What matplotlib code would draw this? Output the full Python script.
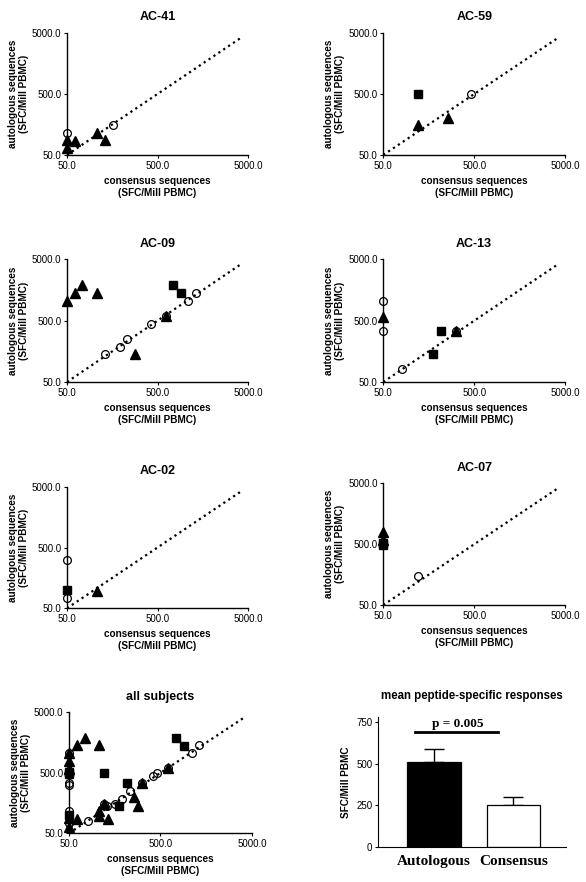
import matplotlib
matplotlib.use("Agg")
import matplotlib.pyplot as plt
import numpy as np

plt.rcParams['font.family'] = ['Liberation Sans', 'DejaVu Sans']

# data per subject: (consensus, autologous) pairs per marker type
ac41_circ_x = [50, 161]
ac41_circ_y = [116, 155]
ac41_tri_x = [50, 61, 50, 107, 132]
ac41_tri_y = [88, 86, 64, 116, 87]
ac41_sq_x = []
ac41_sq_y = []

ac59_circ_x = [464]
ac59_circ_y = [494]
ac59_tri_x = [120, 257]
ac59_tri_y = [153, 199]
ac59_sq_x = [120]
ac59_sq_y = [494]

ac09_circ_x = [131, 192, 233, 419, 613, 1099, 1334]
ac09_circ_y = [143, 188, 251, 447, 595, 1060, 1430]
ac09_tri_x = [50, 61, 74, 107, 284, 613]
ac09_tri_y = [1060, 1430, 1905, 1430, 143, 595]
ac09_sq_x = [738, 904]
ac09_sq_y = [1885, 1413]

ac13_circ_x = [50, 50, 315, 81]
ac13_circ_y = [1060, 335, 335, 80]
ac13_tri_x = [50, 315]
ac13_tri_y = [581, 335]
ac13_sq_x = [215, 177]
ac13_sq_y = [335, 141]

ac02_circ_x = [50, 50]
ac02_circ_y = [312, 73]
ac02_tri_x = [107]
ac02_tri_y = [98]
ac02_sq_x = [50]
ac02_sq_y = [100]

ac07_circ_x = [120]
ac07_circ_y = [152]
ac07_tri_x = [50, 50]
ac07_tri_y = [800, 590]
ac07_sq_x = [50, 50]
ac07_sq_y = [520, 480]

subjects = {
    "AC-41": (ac41_circ_x, ac41_circ_y, ac41_tri_x, ac41_tri_y, ac41_sq_x, ac41_sq_y),
    "AC-59": (ac59_circ_x, ac59_circ_y, ac59_tri_x, ac59_tri_y, ac59_sq_x, ac59_sq_y),
    "AC-09": (ac09_circ_x, ac09_circ_y, ac09_tri_x, ac09_tri_y, ac09_sq_x, ac09_sq_y),
    "AC-13": (ac13_circ_x, ac13_circ_y, ac13_tri_x, ac13_tri_y, ac13_sq_x, ac13_sq_y),
    "AC-02": (ac02_circ_x, ac02_circ_y, ac02_tri_x, ac02_tri_y, ac02_sq_x, ac02_sq_y),
    "AC-07": (ac07_circ_x, ac07_circ_y, ac07_tri_x, ac07_tri_y, ac07_sq_x, ac07_sq_y),
}
# all subjects = union of the above
allsub = tuple(sum((list(v[i]) for v in subjects.values()), []) for i in range(6))
subjects["all subjects"] = allsub

bar_labels = ["Autologous", "Consensus"]
bar_means = [512, 251]
bar_err = [77, 51]
p_text = "p = 0.005"

fig = plt.figure(figsize=(5.86, 8.82), dpi=100)

# axes positions (left, bottom, width, height) in figure fractions
positions = {
    "AC-41": [0.1143, 0.8243, 0.309, 0.1383],
    "AC-59": [0.654, 0.8243, 0.3106, 0.1383],
    "AC-09": [0.1143, 0.5669, 0.309, 0.139],
    "AC-13": [0.654, 0.5669, 0.3106, 0.139],
    "AC-02": [0.1143, 0.3103, 0.309, 0.1379],
    "AC-07": [0.654, 0.314, 0.3106, 0.138],
    "all subjects": [0.1177, 0.0552, 0.312, 0.137],
}

for name, (cx, cy, tx, ty, sx, sy) in subjects.items():
    ax = fig.add_axes(positions[name])
    ax.set_xscale('log')
    ax.set_yscale('log')
    ax.set_xlim(50, 5000)
    ax.set_ylim(50, 5000)
    ax.plot([50, 4200], [50, 4200], ':', color='black', lw=1.6, zorder=1)
    ax.plot(cx, cy, 'o', ms=5.6, mfc='none', mec='black', mew=0.9, clip_on=False, zorder=3)
    ax.plot(tx, ty, '^', ms=6.5, color='black', clip_on=False, zorder=4)
    ax.plot(sx, sy, 's', ms=6, color='black', clip_on=False, zorder=5)
    ax.set_xticks([50, 500, 5000])
    ax.set_yticks([50, 500, 5000])
    ax.set_xticklabels(["50.0", "500.0", "5000.0"])
    ax.set_yticklabels(["50.0", "500.0", "5000.0"])
    ax.minorticks_off()
    ax.tick_params(labelsize=7, length=2.5, width=0.8, pad=1.5)
    for s in ['top', 'right']:
        ax.spines[s].set_visible(False)
    for s in ['left', 'bottom']:
        ax.spines[s].set_linewidth(1.0)
    ax.set_title(name, fontsize=9, fontweight='bold', pad=9)
    ax.set_xlabel("consensus sequences\n(SFC/Mill PBMC)", fontsize=7.2, fontweight='bold', labelpad=4)
    ax.set_ylabel("autologous sequences\n(SFC/Mill PBMC)", fontsize=7.2, fontweight='bold', labelpad=2)

# bar chart of mean responses
ax = fig.add_axes([0.645, 0.04, 0.3208, 0.1467])
xpos = np.arange(len(bar_labels))
ax.bar(xpos, bar_means, width=0.672, color=['black', 'white'], edgecolor='black', lw=0.9, zorder=2)
ax.errorbar(xpos, bar_means, yerr=[[0, 0], bar_err], fmt='none', ecolor='black',
            elinewidth=1.0, capsize=7, capthick=1.0, zorder=1)
ax.set_xlim(-0.705, 1.662)
ax.set_ylim(0, 780)
ax.set_yticks([0, 250, 500, 750])
ax.set_xticks(xpos)
ax.set_xticklabels(bar_labels, fontsize=11, fontweight='bold', family='Liberation Serif')
ax.tick_params(axis='x', length=0, pad=6)
ax.tick_params(axis='y', labelsize=7, length=2.5, width=0.8, pad=1.5)
for s in ['top', 'right']:
    ax.spines[s].set_visible(False)
ax.set_ylabel("SFC/Mill PBMC", fontsize=7.2, fontweight='bold', labelpad=4)
ax.set_title("mean peptide-specific responses", fontsize=8.3, fontweight='bold', pad=13)
ax.plot([-0.24, 0.81], [691, 691], color='black', lw=2)
ax.text(0.3, 706, p_text, ha='center', va='bottom', fontsize=9.5, fontweight='bold',
        family='Liberation Serif')

fig.savefig("out.png", dpi=100)
